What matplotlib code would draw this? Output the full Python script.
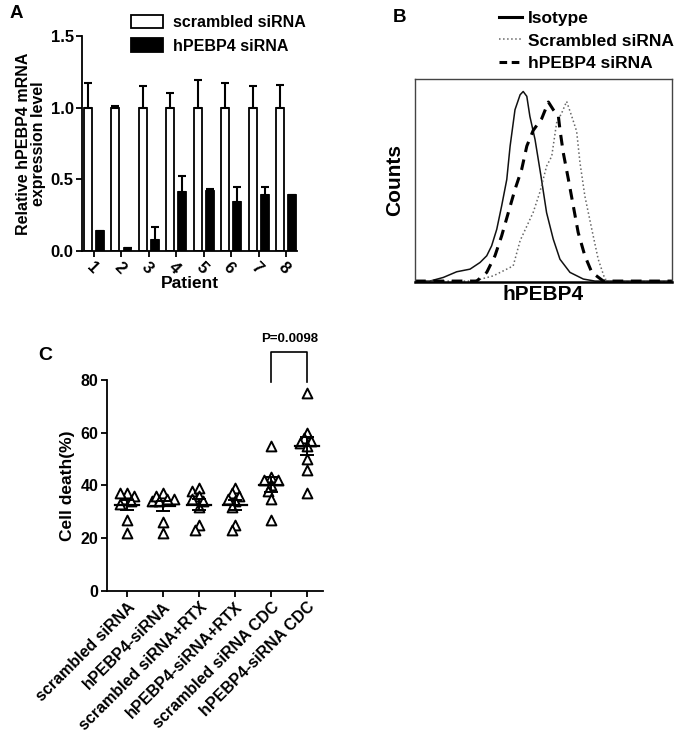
import numpy as np
import matplotlib
matplotlib.use('Agg')
import matplotlib.pyplot as plt
import matplotlib.transforms as mtransforms
from matplotlib.lines import Line2D

plt.rcParams['font.family'] = ['Liberation Sans', 'DejaVu Sans']
plt.rcParams['font.weight'] = 'bold'
plt.rcParams['axes.labelweight'] = 'bold'
plt.rcParams['axes.linewidth'] = 1.3

##############################
# Panel A : qPCR per patient
##############################
patients = ['1', '2', '3', '4', '5', '6', '7', '8']
scrambled_mean = [1.0, 1.0, 1.0, 1.0, 1.0, 1.0, 1.0, 1.0]
scrambled_err = [0.17, 0.01, 0.15, 0.10, 0.19, 0.17, 0.15, 0.16]
hpebp4_mean = [0.14, 0.02, 0.08, 0.41, 0.42, 0.34, 0.39, 0.39]
hpebp4_err = [0.0, 0.0, 0.09, 0.11, 0.01, 0.11, 0.06, 0.0]

##############################
# Panel B : flow cytometry histograms (x = fluorescence, y = relative counts)
##############################
isotype_x = [0, 5.8, 11, 16.2, 21.4, 25.3, 27.9, 29.8, 31.8, 33.7, 35.7, 37.0, 38.9, 40.9,
             42.1, 43.5, 44.7, 46.7, 49.0, 51.2, 53.8, 56.4, 60.3, 65.5, 70, 100]
isotype_y = [0, 0, 0.018, 0.046, 0.059, 0.092, 0.125, 0.174, 0.256, 0.371, 0.502, 0.667,
             0.847, 0.921, 0.937, 0.913, 0.814, 0.70, 0.52, 0.338, 0.207, 0.108, 0.043,
             0.01, 0, 0]
scrambled_x = [0, 22.7, 30.5, 38.2, 40.9, 46.0, 48.6, 51.2, 53.2, 55.1, 57.1, 59.0, 61.0,
               62.9, 64.2, 66.1, 68.8, 71.3, 73.9, 76, 100]
scrambled_y = [0, 0, 0.026, 0.075, 0.20, 0.34, 0.44, 0.568, 0.617, 0.782, 0.831, 0.888,
               0.814, 0.74, 0.585, 0.42, 0.256, 0.108, 0.01, 0, 0]
knockdown_x = [0, 24, 27.9, 31.1, 33.7, 36.3, 38.9, 41.5, 43.5, 46.0, 49.3, 51.9, 53.8,
               55.8, 56.4, 57.7, 59.7, 61.6, 63.5, 66.1, 68.8, 73.3, 100]
knockdown_y = [0, 0, 0.043, 0.125, 0.223, 0.338, 0.453, 0.552, 0.667, 0.745, 0.803, 0.885,
               0.847, 0.814, 0.749, 0.634, 0.502, 0.371, 0.24, 0.125, 0.043, 0, 0]

##############################
# Panel C : cell death
##############################
groups = ['scrambled siRNA', 'hPEBP4-siRNA', 'scrambled siRNA+RTX',
          'hPEBP4-siRNA+RTX', 'scrambled siRNA CDC', 'hPEBP4-siRNA CDC']
death_1 = [37, 36, 35, 37, 34, 33, 27, 22]
death_2 = [34, 37, 35, 36, 34, 26, 22, 35]
death_3 = [38, 39, 36, 35, 32, 34, 25, 23]
death_4 = [39, 37, 36, 34, 32, 35, 25, 23]
death_5 = [55, 43, 42, 42, 40, 38, 35, 27]
death_6 = [75, 60, 58, 57, 56, 55, 50, 46, 37]
p_text = 'P=0.0098'


##############################
# simple beeswarm offsets so triangles do not overlap too much
##############################
def swarm_offsets(values, px_x=36.0, px_y=2.64, min_dist=5.5, step=0.1):
    order = np.argsort(values)[::-1]
    placed = []
    offsets = np.zeros(len(values))
    cands = [0.0]
    for k in range(1, 4):
        cands += [-k * step, k * step]
    for i in order:
        best = cands[-1]
        for c in cands:
            ok = True
            for (ox, oy) in placed:
                d = np.hypot((c - ox) * px_x, (values[i] - oy) * px_y)
                if d < min_dist:
                    ok = False
                    break
            if ok:
                best = c
                break
        offsets[i] = best
        placed.append((best, values[i]))
    return offsets


fig = plt.figure(figsize=(6.76, 7.36), dpi=100)

# ---------- A ----------
ax = fig.add_axes([0.1213, 0.659, 0.318, 0.292])
x = np.arange(len(patients))
w = 0.29
ax.bar(x - 0.22, scrambled_mean, w, color='white', edgecolor='black', linewidth=1.3,
       label='scrambled siRNA')
ax.bar(x + 0.22, hpebp4_mean, w, color='black', edgecolor='black', linewidth=1.3,
       label='hPEBP4 siRNA')
ax.errorbar(x - 0.22, scrambled_mean, yerr=[np.zeros(8), scrambled_err], fmt='none',
            ecolor='black', elinewidth=1.5, capsize=3, capthick=1.5)
ax.errorbar(x + 0.22, hpebp4_mean, yerr=[np.zeros(8), hpebp4_err], fmt='none',
            ecolor='black', elinewidth=1.5, capsize=3, capthick=1.5)
ax.set_xlim(-0.44, 7.4)
ax.set_ylim(0, 1.5)
ax.set_yticks([0, 0.5, 1.0, 1.5])
ax.set_yticklabels(['0.0', '0.5', '1.0', '1.5'])
ax.set_xticks(x)
ax.set_xticklabels(patients, rotation=-45, ha='left', rotation_mode='anchor')
ax.tick_params(labelsize=12, width=1.3, length=4, pad=2)
ax.spines['top'].set_visible(False)
ax.spines['right'].set_visible(False)
ax.set_xlabel('Patient', fontsize=12.5, labelpad=0)
ax.set_ylabel('Relative hPEBP4 mRNA\nexpression level', fontsize=11.5, linespacing=1.0,
              labelpad=3)
ax.legend(loc='upper left', bbox_to_anchor=(0.2, 1.13), frameon=False, fontsize=11.5,
          handlelength=2.0, handleheight=0.9, handletextpad=0.6, labelspacing=0.55,
          borderaxespad=0)
fig.text(10 / 676, 1 - 14 / 736, 'A', fontsize=13.5, va='center', ha='left')

# ---------- B ----------
axb = fig.add_axes([0.614, 0.617, 0.38, 0.276])
axb.plot(isotype_x, isotype_y, color='#111111', lw=1.1, label='Isotype')
axb.plot(scrambled_x, scrambled_y, color='#666666', lw=1.1, ls=':', label='Scrambled siRNA')
axb.plot(knockdown_x, knockdown_y, color='black', lw=2.2, ls=(0, (3.5, 2.5)),
         label='hPEBP4 siRNA')
axb.set_xlim(0, 100)
axb.set_ylim(-0.004, 1.0)
axb.set_xticks([])
axb.set_yticks([])
for s in axb.spines.values():
    s.set_linewidth(1.0)
    s.set_color('#444444')
axb.spines['bottom'].set_linewidth(1.8)
axb.spines['bottom'].set_color('black')
axb.set_xlabel('hPEBP4', fontsize=15, labelpad=2)
axb.set_ylabel('Counts', fontsize=15, labelpad=8)
h = [Line2D([], [], color='black', lw=2.2),
     Line2D([], [], color='#666666', lw=1.1, ls=':'),
     Line2D([], [], color='black', lw=2.2, ls=(0, (2.5, 1.5)))]
fig.legend(h, ['Isotype', 'Scrambled siRNA', 'hPEBP4 siRNA'], loc='upper left',
           bbox_to_anchor=(492 / 676, 1 - 4 / 736), frameon=False, fontsize=12.5,
           handlelength=1.35, handletextpad=0.3, labelspacing=0.42, borderaxespad=0)
fig.text(393 / 676, 1 - 18 / 736, 'B', fontsize=13.5, va='center', ha='left')

# ---------- C ----------
axc = fig.add_axes([0.158, 0.197, 0.32, 0.287])
data = [death_1, death_2, death_3, death_4, death_5, death_6]
for i, vals in enumerate(data):
    vals = np.array(vals, dtype=float)
    off = swarm_offsets(vals)
    axc.scatter(i + off, vals, marker='^', s=50, facecolor='white', edgecolor='black',
                linewidth=1.4, zorder=3)
    m = vals.mean()
    sem = vals.std(ddof=1) / np.sqrt(len(vals))
    axc.plot([i - 0.33, i + 0.33], [m, m], color='black', lw=1.6, zorder=4)
    axc.errorbar(i, m, yerr=sem, fmt='none', ecolor='black', elinewidth=1.4,
                 capsize=5, capthick=1.4, zorder=4)
axc.set_xlim(-0.56, 5.44)
axc.set_ylim(0, 80)
axc.set_yticks([0, 20, 40, 60, 80])
axc.set_xticks(range(len(groups)))
axc.set_xticklabels(groups, rotation=45, ha='right', rotation_mode='anchor')
shift = mtransforms.ScaledTranslation(9 / 100, -2 / 100, fig.dpi_scale_trans)
for lab in axc.get_xticklabels():
    lab.set_transform(lab.get_transform() + shift)
axc.tick_params(labelsize=11.5, width=1.3, length=4, pad=2)
axc.spines['top'].set_visible(False)
axc.spines['right'].set_visible(False)
axc.set_ylabel('Cell death(%)', fontsize=12.5, labelpad=4)
# significance bracket between CDC groups
axc.plot([4, 4, 5, 5], [79, 90.6, 90.6, 79], color='black', lw=1.2, clip_on=False)
axc.text(4.5, 93, p_text, ha='center', va='bottom', fontsize=9.5)
fig.text(45 / 676, 1 - 355 / 736, 'C', fontsize=14, va='center', ha='center')

fig.savefig('out.png', dpi=100)
plt.close()
